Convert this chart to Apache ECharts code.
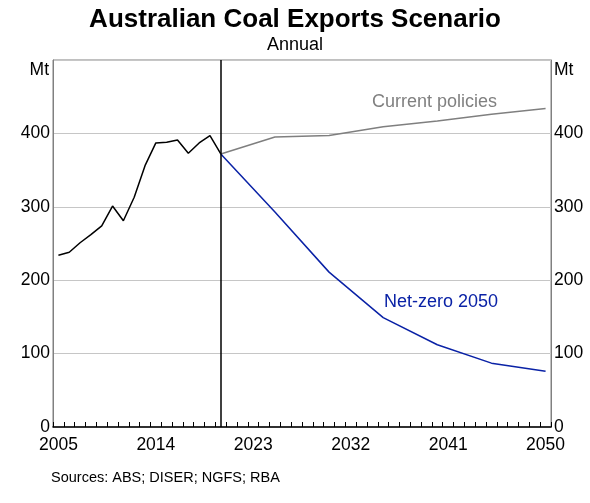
<!DOCTYPE html>
<html>
<head>
<meta charset="utf-8">
<script src="https://cdn.jsdelivr.net/npm/echarts@6/dist/echarts.min.js"></script>
<style>
  html, body { margin: 0; padding: 0; background: #fff; }
  #chart { width: 590px; height: 503px; }
</style>
</head>
<body>
<div id="chart"></div>
<script>
// years on the category axis
const years = []
for (let y = 2005; y <= 2050; y++) years.push(String(y))

// historical exports, Mt
const histYears = ['2005', '2006', '2007', '2008', '2009', '2010', '2011', '2012',
  '2013', '2014', '2015', '2016', '2017', '2018', '2019', '2020']
const histValues = [234, 238, 251, 262, 274, 301, 281, 313, 356, 387, 388, 391, 373, 387, 397, 372]

// scenarios
const projYears = ['2020', '2025', '2030', '2035', '2040', '2045', '2050']
const currentPolicies = [372, 395, 397, 409, 417, 426, 434]
const netZero = [372, 293, 211, 149, 112, 87, 76]

const yTicks = [0, 100, 200, 300, 400]

const pairs = (xs, vs) => xs.map((x, i) => [x, vs[i]])

const chart = echarts.init(document.getElementById('chart'))
const font = 'Liberation Sans, Arial, sans-serif'

const yAxisBase = {
  type: 'value',
  min: 0,
  max: 500,
  interval: 100,
  axisLine: { show: true, lineStyle: { color: '#808080', width: 1 } },
  axisTick: { show: false },
  splitLine: { show: true, lineStyle: { color: '#c6c6c6', width: 1 } },
  axisLabel: {
    color: '#000',
    fontSize: 17.5,
    fontFamily: font,
    margin: 3,
    formatter: v => (yTicks.includes(v) ? String(v) : '')
  }
}

chart.setOption({
  animation: false,
  title: {
    text: 'Australian Coal Exports Scenario',
    subtext: 'Annual',
    left: 'center',
    top: 2,
    itemGap: 3,
    textStyle: { fontSize: 26, fontWeight: 'bold', color: '#000', fontFamily: font },
    subtextStyle: { fontSize: 18, color: '#000', fontFamily: font }
  },
  grid: {
    left: 53,
    right: 39,
    top: 60,
    bottom: 76,
    show: true,
    borderColor: '#808080',
    borderWidth: 1
  },
  xAxis: {
    type: 'category',
    data: years,
    boundaryGap: true,
    axisLine: { lineStyle: { color: '#000', width: 1.5 } },
    axisTick: { show: true, inside: true, length: 5, interval: 0, lineStyle: { color: '#000' } },
    axisLabel: { interval: 8, color: '#000', fontSize: 17.5, fontFamily: font, margin: 9 },
    splitLine: { show: false }
  },
  yAxis: [
    Object.assign({}, yAxisBase, { position: 'left' }),
    Object.assign({}, yAxisBase, { position: 'right', splitLine: { show: false } })
  ],
  series: [
    {
      name: 'History',
      type: 'line',
      data: pairs(histYears, histValues),
      symbol: 'none',
      lineStyle: { color: '#000', width: 1.5 },
      z: 3,
      markLine: {
        silent: true,
        symbol: 'none',
        label: { show: false },
        lineStyle: { color: '#000', width: 1.5, type: 'solid' },
        data: [{ xAxis: '2020' }]
      }
    },
    {
      name: 'Current policies',
      type: 'line',
      data: pairs(projYears, currentPolicies),
      symbol: 'none',
      lineStyle: { color: '#7f7f7f', width: 1.5 }
    },
    {
      name: 'Net-zero 2050',
      type: 'line',
      data: pairs(projYears, netZero),
      symbol: 'none',
      lineStyle: { color: '#0a22a6', width: 1.5 }
    }
  ],
  graphic: [
    { type: 'text', right: 541, top: 61, style: { text: 'Mt', fontSize: 17.5, fontFamily: font, fill: '#000' } },
    { type: 'text', left: 554, top: 61, style: { text: 'Mt', fontSize: 17.5, fontFamily: font, fill: '#000' } },
    { type: 'text', left: 372, top: 93, style: { text: 'Current policies', fontSize: 18, fontFamily: font, fill: '#808080' } },
    { type: 'text', left: 384, top: 293, style: { text: 'Net-zero 2050', fontSize: 18, fontFamily: font, fill: '#0a22a6' } },
    { type: 'text', left: 51, top: 470, style: { text: 'Sources: ABS; DISER; NGFS; RBA', fontSize: 14.5, fontFamily: font, fill: '#000' } }
  ]
})
</script>
</body>
</html>
